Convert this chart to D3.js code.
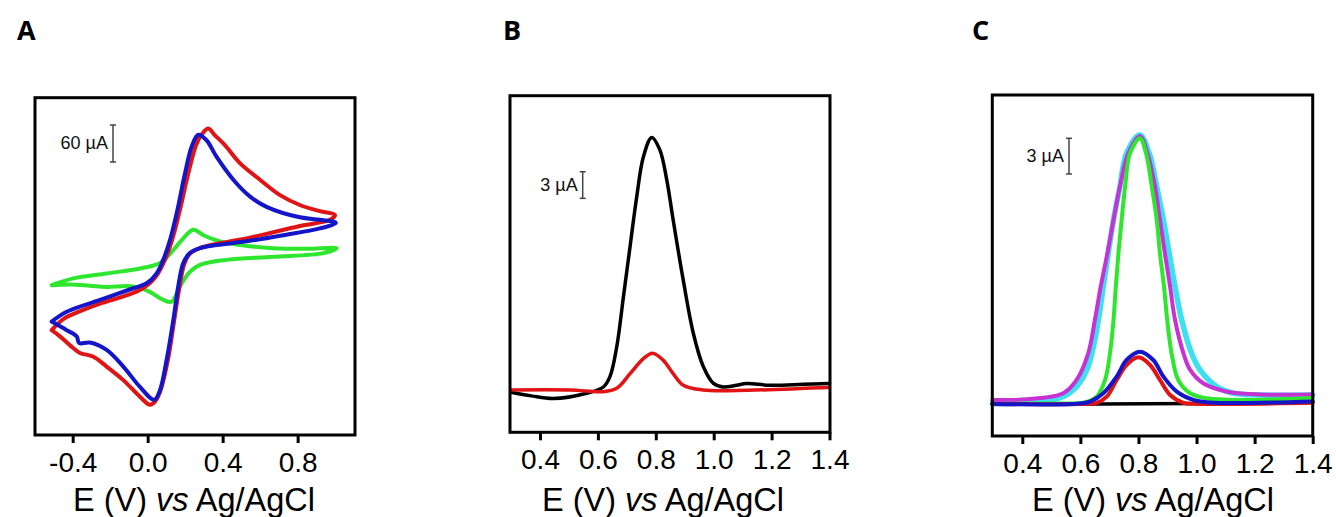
<!DOCTYPE html>
<html><head><meta charset="utf-8">
<script src="https://cdn.jsdelivr.net/npm/d3@7"></script>
<style>body{margin:0;background:#fff} svg{display:block}</style>
</head><body>
<svg id="c" width="1336" height="517"></svg>
<script>
// ---------- DATA ----------
const panelLetters = ["A", "B", "C"];
const aTicks = [-0.4, 0.0, 0.4, 0.8];
const aTickLabels = ["-0.4", "0.0", "0.4", "0.8"];
const bcTicks = [0.4, 0.6, 0.8, 1.0, 1.2, 1.4];
const bcTickLabels = ["0.4", "0.6", "0.8", "1.0", "1.2", "1.4"];
const scaleBarValues = [60, 3, 3];
const scaleBarLabels = ["60 µA", "3 µA", "3 µA"];

// Panel A: cyclic voltammograms [E (V), I (µA)]
const aGreen = [[-0.512,-67],[-0.397,-56],[-0.219,-48],[-0.041,-40],[0.066,-31],[0.137,-10],[0.190,9],[0.243,23],[0.297,14],[0.386,4],[0.492,-2],[0.669,-7],[0.847,-8],[1.008,-7],
  [0.937,-15],[0.669,-21],[0.421,-26],[0.279,-34],[0.226,-45],[0.172,-69],[0.128,-94],[0.083,-91],[0.012,-78],[-0.077,-69],[-0.219,-70],[-0.308,-68],[-0.414,-66],[-0.512,-67]];
const aRed = [[-0.512,-140],[-0.45,-122],[-0.35,-108],[-0.254,-97],[-0.041,-75],[0.039,-55],[0.092,-26],[0.130,6],[0.172,55],[0.215,112],[0.258,160],[0.290,178],[0.323,187],[0.359,176],[0.412,160],[0.492,131],[0.599,104],[0.706,79],[0.812,63],[0.919,53],[0.999,47],
  [0.973,39],[0.812,29],[0.545,10],[0.368,0],[0.279,-7],[0.225,-16],[0.194,-34],[0.167,-75],[0.140,-127],[0.108,-188],[0.066,-240],[0.039,-256],[0.012,-261],[-0.041,-248],[-0.130,-221],[-0.219,-199],[-0.290,-183],[-0.361,-177],[-0.397,-169],[-0.468,-150],[-0.512,-140]];
const aBlue = [[-0.512,-126],[-0.432,-110],[-0.254,-91],[-0.077,-72],[-0.005,-64],[0.048,-48],[0.083,-26],[0.119,6],[0.155,50],[0.199,114],[0.235,158],[0.270,177],[0.314,168],[0.368,141],[0.457,104],[0.545,77],[0.634,60],[0.812,43],[0.919,39],[1.004,34],
  [0.919,25],[0.723,14],[0.545,5],[0.368,-2],[0.279,-7],[0.225,-15],[0.190,-31],[0.163,-69],[0.137,-123],[0.101,-188],[0.066,-237],[0.035,-253],[-0.041,-232],[-0.130,-199],[-0.219,-172],[-0.308,-160],[-0.365,-161],[-0.379,-150],[-0.432,-140],[-0.512,-126]];

// Panel B: DPV [E (V), I (µA)]
const bBlack = [[0.300,0.0],[0.37,-0.4],[0.446,-0.7],[0.561,-0.1],[0.619,0.6],[0.642,1.8],[0.665,5.1],[0.688,10.7],[0.711,16.4],[0.734,22.0],[0.757,26.5],[0.786,28.7],[0.814,27.3],[0.838,23.9],[0.860,19.4],[0.895,12.6],[0.930,6.6],[0.964,2.9],[0.999,1.0],[1.033,0.6],[1.079,0.8],[1.114,1.0],[1.194,0.8],[1.310,0.9],[1.400,1.0]];
const bRed = [[0.300,0.26],[0.504,0.26],[0.619,0.07],[0.665,0.45],[0.711,2.1],[0.757,3.8],[0.789,4.4],[0.826,3.6],[0.860,2.1],[0.895,0.8],[0.964,0.26],[1.079,0.2],[1.400,0.56]];

// Panel C: DPV [E (V), I (µA)]
const cBlack = [[0.297,0],[0.667,0],[1.011,0.05],[1.4,0.2]];
const cCyan = [[0.297,0.05],[0.472,0.2],[0.541,0.62],[0.587,1.46],[0.622,2.86],[0.645,4.82],[0.662,7.06],[0.679,9.86],[0.696,12.66],[0.714,15.46],[0.736,18.26],[0.759,21.07],[0.805,22.6],
  [0.837,21.07],[0.863,18.26],[0.886,15.46],[0.906,12.66],[0.926,9.86],[0.949,7.06],[0.983,4.26],[1.012,2.86],[1.069,1.46],[1.127,0.90],[1.218,0.76],[1.4,0.76]];
const cMagenta = [[0.297,0.34],[0.415,0.39],[0.541,0.90],[0.587,2.02],[0.627,4.26],[0.650,7.06],[0.670,9.86],[0.693,12.66],[0.714,15.46],[0.736,18.26],[0.765,21.07],[0.805,22.5],
  [0.831,21.07],[0.857,18.26],[0.874,15.46],[0.891,12.66],[0.909,9.86],[0.926,7.06],[0.955,4.26],[0.978,2.86],[1.023,1.74],[1.104,1.04],[1.218,0.8],[1.4,0.8]];
const cGreen = [[0.297,0],[0.530,0.05],[0.610,0.1],[0.656,0.62],[0.685,2.02],[0.702,4.26],[0.714,7.06],[0.722,9.86],[0.731,12.66],[0.742,15.46],[0.754,18.26],[0.771,21.07],[0.805,22.33],
  [0.826,21.07],[0.846,18.26],[0.863,15.46],[0.874,12.66],[0.888,9.86],[0.899,7.06],[0.914,4.26],[0.937,2.02],[0.978,0.90],[1.035,0.48],[1.161,0.34],[1.4,0.5]];
const cRed = [[0.297,0],[0.620,0.02],[0.656,0.1],[0.691,0.62],[0.725,2.02],[0.759,3.28],[0.800,3.92],[0.840,3.28],[0.874,2.02],[0.909,0.76],[0.955,0.1],[0.989,0.02],[1.4,0.1]];
const cBlue = [[0.297,0],[0.587,0.02],[0.633,0.2],[0.679,0.90],[0.725,2.30],[0.759,3.70],[0.805,4.40],[0.851,3.70],[0.886,2.30],[0.932,1.04],[0.989,0.34],[1.046,0.12],[1.4,0.22]];

// ---------- LAYOUT / STYLE ----------
const COL = {red:"#e01414", blue:"#1414c8", green:"#2ee62e", black:"#000", cyan:"#3ce0f0", magenta:"#c832d2"};
const FONT = "'Liberation Sans', Arial, sans-serif";
const panels = [
  {frame:{x0:35,x1:355,y0:97.7,y1:435}, xDomain:[-0.601,1.106], yDomain:[-310,237],
   ticks:aTicks, labels:aTickLabels, letterX:17, labelX:194, bar:{x:113,y:125},
   series:[{d:aGreen,c:COL.green,w:4},{d:aRed,c:COL.red,w:4},{d:aBlue,c:COL.blue,w:4}]},
  {frame:{x0:510,x1:830,y0:95.7,y1:432.3}, xDomain:[0.2964,1.4017], yDomain:[-4.5,33.4],
   ticks:bcTicks, labels:bcTickLabels, letterX:503, labelX:663, bar:{x:582.7,y:171.7},
   series:[{d:bBlack,c:COL.black,w:3.5},{d:bRed,c:COL.red,w:3.5}]},
  {frame:{x0:992.3,x1:1312.7,y0:95,y1:436}, xDomain:[0.2967,1.4], yDomain:[-2.69,25.97],
   ticks:bcTicks, labels:bcTickLabels, letterX:972, labelX:1153, bar:{x:1069,y:138.3},
   series:[{d:cBlack,c:COL.black,w:3.5},{d:cCyan,c:COL.cyan,w:5.5},{d:cMagenta,c:COL.magenta,w:4},{d:cGreen,c:COL.green,w:4},{d:cRed,c:COL.red,w:4},{d:cBlue,c:COL.blue,w:4}]}
];

const svg = d3.select("#c");
panels.forEach((p, i) => {
  const f = p.frame;
  const x = d3.scaleLinear().domain(p.xDomain).range([f.x0, f.x1]);
  const y = d3.scaleLinear().domain(p.yDomain).range([f.y1, f.y0]);
  const g = svg.append("g");
  const line = d3.line().x(d => x(d[0])).y(d => y(d[1])).curve(d3.curveCatmullRom.alpha(0.5));
  p.series.forEach(s => {
    g.append("path").attr("d", line(s.d)).attr("fill","none").attr("stroke", s.c)
      .attr("stroke-width", s.w).attr("stroke-linejoin","round").attr("stroke-linecap","round");
  });
  g.append("rect").attr("x", f.x0).attr("y", f.y0).attr("width", f.x1 - f.x0).attr("height", f.y1 - f.y0)
    .attr("fill","none").attr("stroke","#000").attr("stroke-width",3);
  const ax = g.append("g").attr("transform", `translate(0,${f.y1})`)
    .call(d3.axisBottom(x).tickValues(p.ticks).tickFormat((d, k) => p.labels[k]).tickSize(8).tickPadding(9));
  ax.select(".domain").remove();
  ax.selectAll(".tick line").attr("stroke","#000").attr("stroke-width",3);
  ax.selectAll(".tick text").attr("font-family", FONT).attr("font-size",28).attr("fill","#000");
  const t = g.append("text").attr("x", p.labelX).attr("y", 511).attr("text-anchor","middle")
    .attr("font-family", FONT).attr("font-size",32.5).attr("fill","#000");
  t.append("tspan").text("E (V) ");
  t.append("tspan").attr("font-style","italic").text("vs");
  t.append("tspan").text(" Ag/AgCl");
  g.append("text").attr("x", p.letterX).attr("y", 40).attr("font-family","'Open Sans', sans-serif")
    .attr("font-weight","bold").attr("font-size",27).attr("fill","#000").text(panelLetters[i]);
  const len = y(0) - y(scaleBarValues[i]);
  const b = p.bar;
  const sb = g.append("g").attr("stroke","#444").attr("stroke-width",1.5);
  sb.append("line").attr("x1",b.x).attr("x2",b.x).attr("y1",b.y).attr("y2",b.y+len);
  sb.append("line").attr("x1",b.x-3).attr("x2",b.x+3).attr("y1",b.y).attr("y2",b.y);
  sb.append("line").attr("x1",b.x-3).attr("x2",b.x+3).attr("y1",b.y+len).attr("y2",b.y+len);
  g.append("text").attr("x", b.x - 5).attr("y", b.y + len/2 + 6).attr("text-anchor","end")
    .attr("font-family", FONT).attr("font-size",18).attr("fill","#111")
    .text(scaleBarLabels[i]);
});
</script>
</body></html>
